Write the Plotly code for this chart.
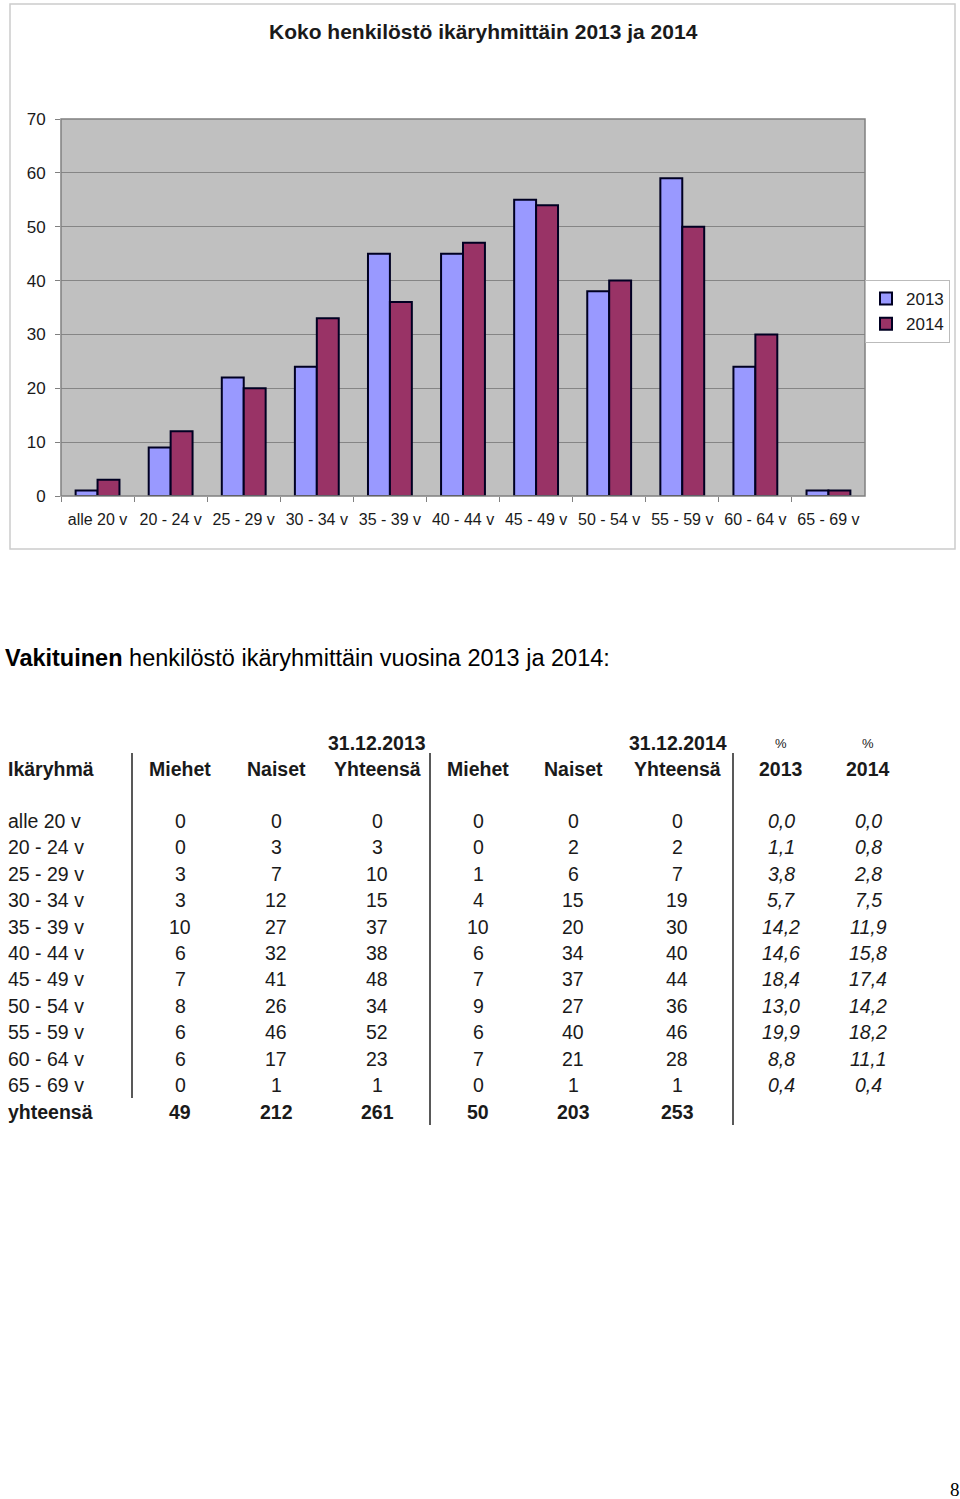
import plotly.graph_objects as go

# ---- Chart data ----
age_groups = ["alle 20 v", "20 - 24 v", "25 - 29 v", "30 - 34 v", "35 - 39 v", "40 - 44 v",
              "45 - 49 v", "50 - 54 v", "55 - 59 v", "60 - 64 v", "65 - 69 v"]
total_2013 = [1, 9, 22, 24, 45, 45, 55, 38, 59, 24, 1]
total_2014 = [3, 12, 20, 33, 36, 47, 54, 40, 50, 30, 1]

# ---- Table data ----
table_groups = ["alle 20 v", "20 - 24 v", "25 - 29 v", "30 - 34 v", "35 - 39 v", "40 - 44 v",
                "45 - 49 v", "50 - 54 v", "55 - 59 v", "60 - 64 v", "65 - 69 v"]
men_2013 = [0, 0, 3, 3, 10, 6, 7, 8, 6, 6, 0]
women_2013 = [0, 3, 7, 12, 27, 32, 41, 26, 46, 17, 1]
sum_2013 = [0, 3, 10, 15, 37, 38, 48, 34, 52, 23, 1]
men_2014 = [0, 0, 1, 4, 10, 6, 7, 9, 6, 7, 0]
women_2014 = [0, 2, 6, 15, 20, 34, 37, 27, 40, 21, 1]
sum_2014 = [0, 2, 7, 19, 30, 40, 44, 36, 46, 28, 1]
pct_2013 = [0.0, 1.1, 3.8, 5.7, 14.2, 14.6, 18.4, 13.0, 19.9, 8.8, 0.4]
pct_2014 = [0.0, 0.8, 2.8, 7.5, 11.9, 15.8, 17.4, 14.2, 18.2, 11.1, 0.4]
totals = [49, 212, 261, 50, 203, 253]

W, H = 960, 1499
def px(x):
    return x / W
def py(y):
    return 1 - y / H

FONT = "Liberation Sans, Arial, sans-serif"
TXT = "#1a1a1a"

fig = go.Figure()
fig.add_trace(go.Bar(x=age_groups, y=total_2013, name="2013",
                     marker=dict(color="#9999FF", line=dict(color="#000022", width=2))))
fig.add_trace(go.Bar(x=age_groups, y=total_2014, name="2014",
                     marker=dict(color="#993366", line=dict(color="#000022", width=2))))

shapes = []
annotations = []

# chart frame
shapes.append(dict(type="rect", xref="paper", yref="paper", x0=px(10), x1=px(955), y0=py(549), y1=py(4),
                   line=dict(color="#cccccc", width=1.5), layer="below"))
# plot area border
shapes.append(dict(type="rect", xref="paper", yref="paper", x0=px(61), x1=px(865), y0=py(496), y1=py(119),
                   line=dict(color="#808080", width=1.5), layer="above"))

annotations.append(dict(text="<b>Koko henkilöstö ikäryhmittäin 2013 ja 2014</b>", x=px(483), y=py(32),
                        xref="paper", yref="paper", showarrow=False, xanchor="center", yanchor="middle",
                        font=dict(family=FONT, size=21, color=TXT)))

annotations.append(dict(text="<b>Vakituinen</b> henkilöstö ikäryhmittäin vuosina 2013 ja 2014:",
                        x=px(3), y=py(658), xref="paper", yref="paper", showarrow=False,
                        xanchor="left", yanchor="middle", font=dict(family=FONT, size=23.5, color="#000000")))

# ---- Table ----
col_x = [180, 276, 377, 478, 573, 677]
pct_x = [781, 868]
row_y0, row_dy = 821, 26.4
TS = 19.5

def ann(text, x, y, size=TS, anchor="center", color=TXT):
    annotations.append(dict(text=text, x=px(x), y=py(y), xref="paper", yref="paper", showarrow=False,
                            xanchor=anchor, yanchor="middle", font=dict(family=FONT, size=size, color=color)))

ann("<b>Ikäryhmä</b>", 6, 769, anchor="left")
headers = ["Miehet", "Naiset", "Yhteensä", "Miehet", "Naiset", "Yhteensä"]
for h, x in zip(headers, col_x):
    ann("<b>" + h + "</b>", x, 769)
ann("<b>31.12.2013</b>", 377, 743)
ann("<b>31.12.2014</b>", 678, 743)
ann("%", pct_x[0], 743, size=13)
ann("%", pct_x[1], 743, size=13)
ann("<b>2013</b>", pct_x[0], 769)
ann("<b>2014</b>", pct_x[1], 769)

cols = [men_2013, women_2013, sum_2013, men_2014, women_2014, sum_2014]
for i, g in enumerate(table_groups):
    y = row_y0 + i * row_dy
    ann(g, 6, y, anchor="left")
    for c, x in zip(cols, col_x):
        ann(str(c[i]), x, y)
    ann("<i>" + f"{pct_2013[i]:.1f}".replace(".", ",") + "</i>", pct_x[0], y)
    ann("<i>" + f"{pct_2014[i]:.1f}".replace(".", ",") + "</i>", pct_x[1], y)

ann("<b>yhteensä</b>", 6, 1112, anchor="left")
for t, x in zip(totals, col_x):
    ann("<b>" + str(t) + "</b>", x, 1112)

for x, y0, y1 in [(132, 753, 1098), (430, 753, 1125), (733, 753, 1125)]:
    shapes.append(dict(type="line", xref="paper", yref="paper", x0=px(x), x1=px(x), y0=py(y0), y1=py(y1),
                       line=dict(color="#222222", width=1.5)))

# page number
annotations.append(dict(text="8", x=px(955), y=py(1489), xref="paper", yref="paper", showarrow=False,
                        xanchor="center", yanchor="middle",
                        font=dict(family="Liberation Serif, Times New Roman, serif", size=19, color="#000000")))

fig.update_layout(
    width=W, height=H,
    autosize=False,
    margin=dict(l=0, r=0, t=0, b=0, pad=0, autoexpand=False),
    paper_bgcolor="white",
    plot_bgcolor="#C0C0C0",
    barmode="group",
    bargap=0.4,
    bargroupgap=0,
    showlegend=True,
    legend=dict(x=px(950), y=py(280), xanchor="right", yanchor="top",
                bgcolor="white", bordercolor="#bbbbbb", borderwidth=1,
                font=dict(family=FONT, size=17, color=TXT),
                itemwidth=30, tracegroupgap=2),
    xaxis=dict(domain=[px(61), px(865)], tickson="boundaries", ticks="outside", ticklen=5,
               tickcolor="#808080", showgrid=False, showline=False, automargin=False,
               tickfont=dict(family=FONT, size=16, color=TXT), ticklabelstandoff=12),
    yaxis=dict(domain=[py(496), py(119)], range=[0, 70], dtick=10, ticks="outside", ticklen=5,
               tickcolor="#808080", gridcolor="#858585", gridwidth=1, showline=False, zeroline=False,
               automargin=False,
               tickfont=dict(family=FONT, size=17, color=TXT), ticklabelstandoff=6),
    shapes=shapes,
    annotations=annotations,
)

fig.write_html("out.html", config={"displayModeBar": False, "responsive": False},
               post_script="document.body.style.margin='0';document.body.style.overflow='hidden';")
